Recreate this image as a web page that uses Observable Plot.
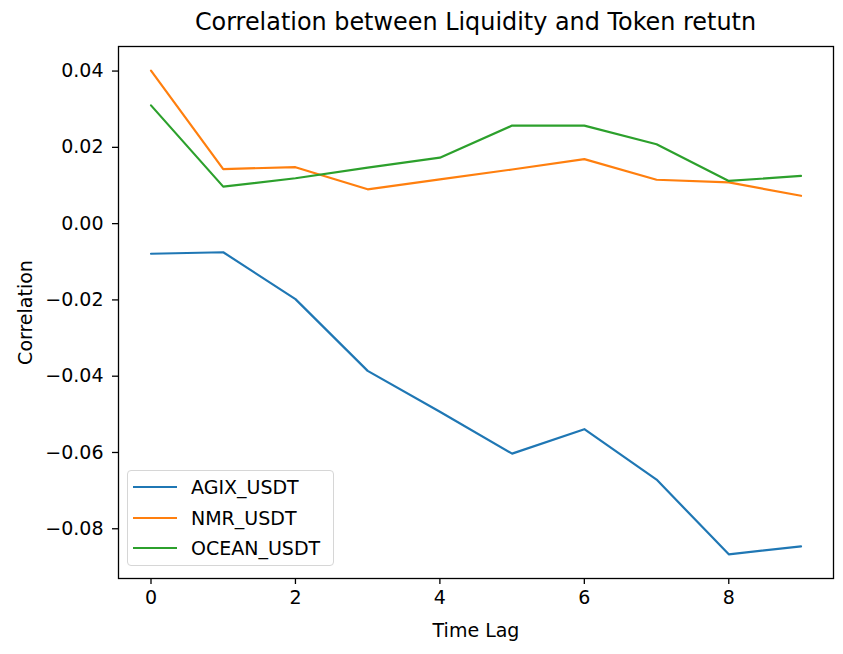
<!DOCTYPE html>
<html><head><meta charset="utf-8">
<script src="https://cdn.jsdelivr.net/npm/d3@7"></script>
<script src="https://cdn.jsdelivr.net/npm/@observablehq/plot@0.6"></script>
<style>
body{margin:0;background:#fff;font-family:"DejaVu Sans",sans-serif;}
#wrap{position:relative;width:843px;height:654px;overflow:hidden;}
#title{position:absolute;left:118px;top:0;width:715px;height:44px;line-height:44px;text-align:center;font-size:23.9px;color:#000;white-space:nowrap;}
#chart{position:absolute;left:0;top:40px;}
#legend{position:absolute;left:127px;top:470px;width:207px;height:96px;border:1px solid #d6d6d6;border-radius:4px;background:rgba(255,255,255,0.8);box-sizing:border-box;}
.row{position:absolute;left:0;height:30px;width:100%;}
.sw{position:absolute;left:5px;top:14px;width:44px;height:2.4px;}
.lab{position:absolute;left:63px;top:0;height:30px;line-height:30px;font-size:19px;color:#000;white-space:nowrap;}
</style></head>
<body><div id="wrap"><div id="title">Correlation between Liquidity and Token retutn</div><div id="chart"></div><div id="legend"></div></div>
<script>
const lags = [0,1,2,3,4,5,6,7,8,9];
const agix  = [-0.0079,-0.0075,-0.0198,-0.0386,-0.0493,-0.0603,-0.0539,-0.0671,-0.0867,-0.0846];
const nmr   = [0.0401,0.0143,0.0148,0.0090,0.0116,0.0142,0.0169,0.0115,0.0108,0.0073];
const ocean = [0.0310,0.0097,0.0119,0.0147,0.0173,0.0257,0.0257,0.0208,0.0112,0.0125];
const seriesNames = ["AGIX_USDT","NMR_USDT","OCEAN_USDT"];
const colors = ["#1f77b4","#ff7f0e","#2ca02c"];
const xTicks = [0,2,4,6,8];
const yTicks = [-0.08,-0.06,-0.04,-0.02,0.00,0.02,0.04];

const seriesValues = [agix, nmr, ocean];
const rows = [];
seriesNames.forEach((name, i) => lags.forEach((lag, j) => rows.push({series: name, lag, value: seriesValues[i][j]})));

const allVals = seriesValues.flat();
const yMin = d3.min(allVals), yMax = d3.max(allVals);
const yPad = (yMax - yMin) * 0.05;
const xPad = (d3.max(lags) - d3.min(lags)) * 0.05;

const fmt = d3.format(".2f");
const chart = Plot.plot({
  width: 843, height: 614,
  marginTop: 6, marginLeft: 118, marginRight: 10, marginBottom: 76,
  style: {fontFamily: "DejaVu Sans", fontSize: "19px", color: "#000", background: "transparent"},
  x: {domain: [d3.min(lags) - xPad, d3.max(lags) + xPad]},
  y: {domain: [yMin - yPad, yMax + yPad]},
  color: {domain: seriesNames, range: colors},
  marks: [
    Plot.line(rows, {x: "lag", y: "value", z: "series", stroke: "series", strokeWidth: 2.2}),
    Plot.frame({stroke: "#000", strokeWidth: 1.3}),
    Plot.axisX({ticks: xTicks, tickSize: 6, tickPadding: 6, tickFormat: d => String(d), label: "Time Lag", labelAnchor: "center", labelArrow: "none", labelOffset: 58, stroke: "#000", strokeWidth: 1.3}),
    Plot.axisY({ticks: yTicks, tickSize: 6, tickPadding: 9, tickFormat: fmt, label: "Correlation", labelAnchor: "center", labelArrow: "none", labelOffset: 100, stroke: "#000", strokeWidth: 1.3})
  ]
});
document.getElementById("chart").appendChild(chart);

const legend = document.getElementById("legend");
seriesNames.forEach((name, i) => {
  const row = document.createElement("div");
  row.className = "row";
  row.style.top = (1 + i * 30.5) + "px";
  const sw = document.createElement("div");
  sw.className = "sw";
  sw.style.background = colors[i];
  const lab = document.createElement("div");
  lab.className = "lab";
  lab.textContent = name;
  row.appendChild(sw); row.appendChild(lab);
  legend.appendChild(row);
});
</script></body></html>
